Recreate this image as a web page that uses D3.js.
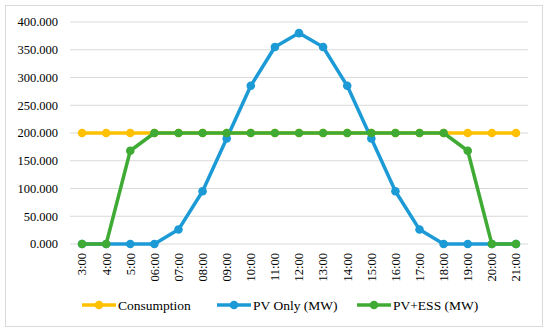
<!DOCTYPE html>
<html>
<head>
<meta charset="utf-8">
<script src="https://cdn.jsdelivr.net/npm/d3@7"></script>
<style>
body { margin: 0; background: #fff; }
text { font-family: "Liberation Serif", "DejaVu Serif", serif; fill: #000; }
</style>
</head>
<body>
<svg width="550" height="334"></svg>
<script>
var hours = ["3:00","4:00","5:00","06:00","07:00","08:00","09:00","10:00","11:00","12:00",
	"13:00","14:00","15:00","16:00","17:00","18:00","19:00","20:00","21:00"]
var consumption = [200,200,200,200,200,200,200,200,200,200,200,200,200,200,200,200,200,200,200]
var pvOnly = [0,0,0,0,26,95,190,285,355,380,355,285,190,95,26,0,0,0,0]
var pvEss = [0,0,168,200,200,200,200,200,200,200,200,200,200,200,200,200,168,0,0]
var yTicks = [0,50,100,150,200,250,300,350,400]

var series = [
	{name: "Consumption", values: consumption, color: "#ffc000"},
	{name: "PV Only (MW)", values: pvOnly, color: "#1c9ad6"},
	{name: "PV+ESS (MW)", values: pvEss, color: "#3fab35"}
]

var svg = d3.select("svg")

// outer frame
svg.append("rect")
	.attr("x", 5.5).attr("y", 5.5)
	.attr("width", 537).attr("height", 321)
	.attr("fill", "#fff").attr("stroke", "#d9d9d9")

var x = d3.scaleBand().domain(hours).range([70, 528])
var y = d3.scaleLinear().domain([0, 400]).range([244, 22])

// gridlines
svg.append("g").selectAll("line").data(yTicks).enter().append("line")
	.attr("x1", 70).attr("x2", 528)
	.attr("y1", d => y(d)).attr("y2", d => y(d))
	.attr("stroke", "#d9d9d9").attr("stroke-width", 1)

// y labels
svg.append("g").selectAll("text").data(yTicks).enter().append("text")
	.attr("x", 58).attr("y", d => y(d)).attr("dy", "0.35em")
	.attr("text-anchor", "end").style("font-size", "12.5px")
	.text(d => d3.format(".3f")(d))

// x labels, rotated
svg.append("g").selectAll("text").data(hours).enter().append("text")
	.attr("transform", d => "translate(" + (x(d) + x.bandwidth() / 2) + ",253) rotate(-90)")
	.attr("dy", "0.35em")
	.attr("text-anchor", "end").style("font-size", "12.5px")
	.text(d => d)

var cx = d => x(d) + x.bandwidth() / 2
var line = d3.line().x((d, i) => cx(hours[i])).y(d => y(d))

series.forEach(function(s) {
	var g = svg.append("g")
	g.append("path").datum(s.values)
		.attr("d", line)
		.attr("fill", "none").attr("stroke", s.color)
		.attr("stroke-width", 3.5).attr("stroke-linejoin", "round")
	g.selectAll("circle").data(s.values).enter().append("circle")
		.attr("cx", (d, i) => cx(hours[i])).attr("cy", d => y(d))
		.attr("r", 4.3).attr("fill", s.color)
})

// legend
var legX = [82, 217, 357]
var leg = svg.append("g").selectAll("g").data(series).enter().append("g")
	.attr("transform", (d, i) => "translate(" + legX[i] + ",305)")
leg.append("line").attr("x1", 0).attr("x2", 34)
	.attr("stroke", d => d.color).attr("stroke-width", 3.5)
leg.append("circle").attr("cx", 17).attr("r", 4.3).attr("fill", d => d.color)
leg.append("text").attr("x", 36).attr("dy", "0.35em")
	.style("font-size", "13.5px").text(d => d.name)
</script>
</body>
</html>
